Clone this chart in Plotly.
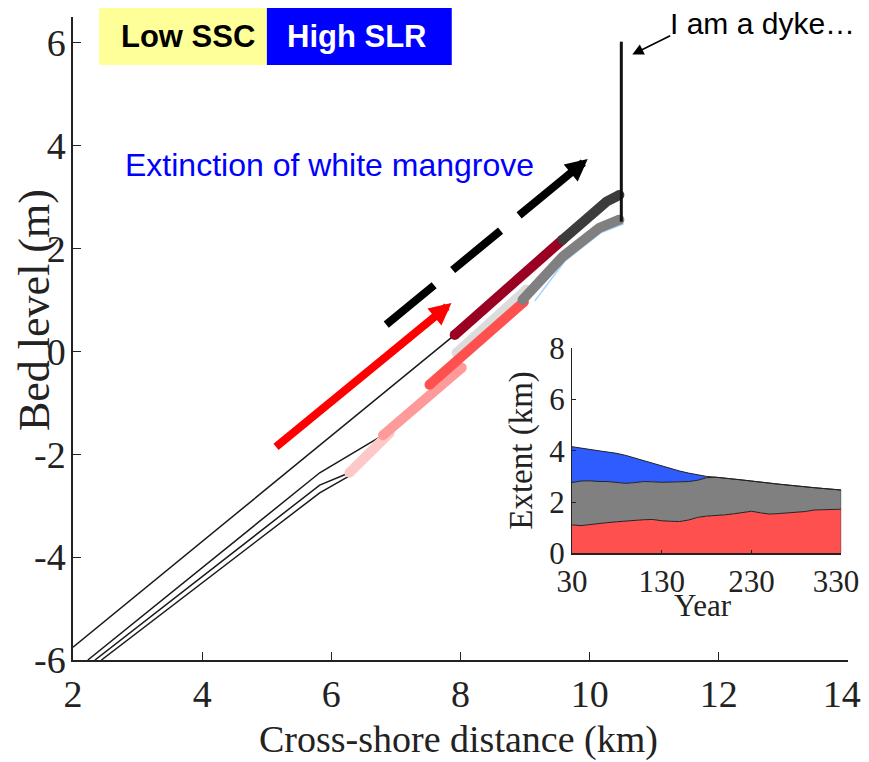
import plotly.graph_objects as go

# ---------------- main panel data (cross-shore distance km, bed level m) ----------------
prof_a_x = [2.0, 7.91]
prof_a_y = [-5.75, 0.32]
prof_b_x = [2.23, 5.82, 6.80]
prof_b_y = [-6.0, -2.36, -1.63]
prof_c_x = [2.34, 5.82, 6.28]
prof_c_y = [-6.0, -2.60, -2.36]
prof_d_x = [2.44, 5.82, 6.28]
prof_d_y = [-6.0, -2.75, -2.42]

lightgray_x = [7.94, 9.02]
lightgray_y = [-0.03, 1.20]
palepink_x = [6.28, 6.90]
palepink_y = [-2.36, -1.59]
pink_x = [6.80, 8.02]
pink_y = [-1.63, -0.32]
red_x = [7.52, 8.98]
red_y = [-0.65, 0.96]
lightblue_x = [9.15, 9.62, 10.18, 10.53]
lightblue_y = [0.98, 1.76, 2.31, 2.48]
gray_x = [8.96, 9.58, 10.15, 10.46]
gray_y = [1.00, 1.84, 2.40, 2.56]
darkred_x = [7.91, 9.58]
darkred_y = [0.32, 2.17]
darkgray_x = [9.58, 10.04, 10.26, 10.46]
darkgray_y = [2.17, 2.69, 2.91, 3.04]
dyke_x = [10.49, 10.49]
dyke_y = [2.52, 6.02]

# arrows (data coords)
red_arrow_start = (5.12, -1.88)
red_arrow_tip = (7.86, 0.94)
dash_start = (6.85, 0.52)
dash_head_base = (9.67, 3.43)
dash_tip = (9.97, 3.74)
dyke_arrow_tip = (10.66, 5.77)
dyke_arrow_start = (11.27, 6.15)

x_ticks = [2, 4, 6, 8, 10, 12, 14]
x_ticktext = ["2", "4", "6", "8", "10", "12", "14\u2004"]
y_ticks = [-6, -4, -2, 0, 2, 4, 6]
y_ticktext = ["-6", "-4", "-2", "0", "2", "4", "6"]

# ---------------- inset data ----------------
years = [30, 40, 50, 60, 70, 80, 90, 100, 110, 120, 130, 140, 150, 160, 170, 180,
         190, 200, 210, 220, 230, 240, 250, 260, 270, 280, 290, 300, 310, 320, 330]
red_top = [1.11, 1.08, 1.12, 1.17, 1.20, 1.23, 1.26, 1.28, 1.31, 1.32, 1.27, 1.25, 1.24, 1.30, 1.40, 1.45,
           1.47, 1.50, 1.54, 1.60, 1.64, 1.58, 1.53, 1.55, 1.57, 1.60, 1.63, 1.69, 1.70, 1.71, 1.72]
gray_top = [2.76, 2.82, 2.83, 2.80, 2.80, 2.76, 2.73, 2.76, 2.80, 2.79, 2.77, 2.78, 2.78, 2.80, 2.85, 2.95,
            2.97, 2.94, 2.90, 2.86, 2.82, 2.79, 2.74, 2.70, 2.66, 2.63, 2.60, 2.56, 2.53, 2.50, 2.47]
blue_top = [4.16, 4.10, 4.05, 4.00, 3.95, 3.90, 3.82, 3.72, 3.60, 3.49, 3.40, 3.30, 3.21, 3.13, 3.06, 3.00,
            2.97, 2.94, 2.90, 2.86, 2.82, 2.79, 2.74, 2.70, 2.66, 2.63, 2.60, 2.56, 2.53, 2.50, 2.47]
inset_xticks = [30, 130, 230, 330]
inset_xticktext = ["30", "130", "230", "330\u2004"]
inset_yticks = [0, 2, 4, 6, 8]

SERIF = "Liberation Serif, Times New Roman, serif"
SANS = "Liberation Sans, Arial, sans-serif"

fig = go.Figure()

def thin(x, y):
    fig.add_trace(go.Scatter(x=x, y=y, mode="lines", line=dict(color="#1a1a1a", width=1.5),
                             hoverinfo="skip", showlegend=False))

def thick(x, y, color, w=10):
    fig.add_trace(go.Scatter(x=x, y=y, mode="lines", line=dict(color=color, width=w),
                             hoverinfo="skip", showlegend=False))
    fig.add_trace(go.Scatter(x=[x[0], x[-1]], y=[y[0], y[-1]], mode="markers",
                             marker=dict(color=color, size=w, line=dict(width=0)),
                             hoverinfo="skip", showlegend=False))

thin(prof_a_x, prof_a_y)
thin(prof_b_x, prof_b_y)
thin(prof_c_x, prof_c_y)
thin(prof_d_x, prof_d_y)
thick(lightgray_x, lightgray_y, "#dcdcdc")
thick(palepink_x, palepink_y, "#ffc8c8")
thick(pink_x, pink_y, "#ff9a9a")
thick(red_x, red_y, "#ff5050")
fig.add_trace(go.Scatter(x=lightblue_x, y=lightblue_y, mode="lines",
                         line=dict(color="#a8d4ff", width=1.5), hoverinfo="skip", showlegend=False))
thick(gray_x, gray_y, "#808080")
thick(darkred_x, darkred_y, "#9a0022")
thick(darkgray_x, darkgray_y, "#3c3c3c")
fig.add_trace(go.Scatter(x=dyke_x, y=dyke_y, mode="lines", line=dict(color="#111111", width=3),
                         hoverinfo="skip", showlegend=False))

# dashed black shaft
fig.add_trace(go.Scatter(x=[dash_start[0], dash_head_base[0]], y=[dash_start[1], dash_head_base[1]],
                         mode="lines", line=dict(color="black", width=8, dash="62px,24px"),
                         hoverinfo="skip", showlegend=False))

# inset stacked areas
fig.add_trace(go.Scatter(x=years, y=red_top, xaxis="x2", yaxis="y2", mode="lines",
                         line=dict(color="#222222", width=1), fill="tozeroy", fillcolor="#ff5050",
                         hoverinfo="skip", showlegend=False))
fig.add_trace(go.Scatter(x=years, y=gray_top, xaxis="x2", yaxis="y2", mode="lines",
                         line=dict(color="#222222", width=1), fill="tonexty", fillcolor="#808080",
                         hoverinfo="skip", showlegend=False))
fig.add_trace(go.Scatter(x=years, y=blue_top, xaxis="x2", yaxis="y2", mode="lines",
                         line=dict(color="#222222", width=1), fill="tonexty", fillcolor="#2e5cff",
                         hoverinfo="skip", showlegend=False))
fig.add_trace(go.Scatter(x=[330, 330], y=[0, blue_top[-1]], xaxis="x2", yaxis="y2", mode="lines",
                         line=dict(color="#444444", width=1), hoverinfo="skip", showlegend=False))

# The page body adds an 8px offset; positions below are given in page pixels.
OFF = 8
W, H = 861, 754
PL, PR, PT, PB = 73, 848.5, 17, 660      # plot area in page pixels
L, R, T, B = PL - OFF, W - (PR - OFF), PT - OFF, H - (PB - OFF)
pw, ph = PR - PL, PB - PT

def px(xp):
    return (xp - PL) / pw

def py(yp):
    return (PB - yp) / ph

annotations = [
    dict(x=red_arrow_tip[0], y=red_arrow_tip[1], ax=red_arrow_start[0], ay=red_arrow_start[1],
         xref="x", yref="y", axref="x", ayref="y", text="", showarrow=True,
         arrowhead=2, arrowsize=0.55, arrowwidth=8, arrowcolor="#ff0000"),
    dict(x=dash_tip[0], y=dash_tip[1], ax=dash_head_base[0] - 0.05, ay=dash_head_base[1] - 0.05,
         xref="x", yref="y", axref="x", ayref="y", text="", showarrow=True,
         arrowhead=2, arrowsize=0.55, arrowwidth=8, arrowcolor="black"),
    dict(x=dyke_arrow_tip[0], y=dyke_arrow_tip[1], ax=dyke_arrow_start[0], ay=dyke_arrow_start[1],
         xref="x", yref="y", axref="x", ayref="y", text="", showarrow=True,
         arrowhead=2, arrowsize=1.4, arrowwidth=1.6, arrowcolor="black"),
    dict(x=px(188), y=py(37), xref="paper", yref="paper", text="<b>Low SSC</b>", showarrow=False,
         font=dict(family=SANS, size=31, color="black"), xanchor="center", yanchor="middle"),
    dict(x=px(357), y=py(37), xref="paper", yref="paper", text="<b>High SLR</b>", showarrow=False,
         font=dict(family=SANS, size=31, color="white"), xanchor="center", yanchor="middle"),
    dict(x=px(123), y=py(165), xref="paper", yref="paper", text="Extinction of white mangrove",
         showarrow=False, font=dict(family=SANS, size=32, color="#0000ff"), xanchor="left", yanchor="middle"),
    dict(x=px(668), y=py(23), xref="paper", yref="paper", text="I am a dyke…",
         showarrow=False, font=dict(family=SANS, size=30, color="black"), xanchor="left", yanchor="middle"),
    dict(x=px(459), y=py(740), xref="paper", yref="paper", text="Cross-shore distance (km)",
         showarrow=False, font=dict(family=SERIF, size=38, color="#222222"), xanchor="center", yanchor="middle"),
    dict(x=px(34), y=py(310), xref="paper", yref="paper", text="Bed level (m)", textangle=-90,
         showarrow=False, font=dict(family=SERIF, size=44, color="#222222"), xanchor="center", yanchor="middle"),
    dict(x=px(521), y=py(450), xref="paper", yref="paper", text="Extent (km)", textangle=-90,
         showarrow=False, font=dict(family=SERIF, size=33, color="#222222"), xanchor="center", yanchor="middle"),
    dict(x=px(703), y=py(605), xref="paper", yref="paper", text="Year",
         showarrow=False, font=dict(family=SERIF, size=31, color="#222222"), xanchor="center", yanchor="middle"),
]

shapes = [
    dict(type="rect", xref="paper", yref="paper", x0=px(99), x1=px(267), y0=py(65), y1=py(6),
         fillcolor="#ffff99", line=dict(width=0), layer="above"),
    dict(type="rect", xref="paper", yref="paper", x0=px(267), x1=px(452), y0=py(65), y1=py(6),
         fillcolor="#0000ff", line=dict(width=0), layer="above"),
]

fig.update_layout(
    width=W, height=H,
    margin=dict(l=L, r=R, t=T, b=B, autoexpand=False),
    paper_bgcolor="white", plot_bgcolor="rgba(0,0,0,0)",
    showlegend=False,
    xaxis=dict(domain=[0, 1], range=[2, 14], tickvals=x_ticks, ticktext=x_ticktext, ticks="inside",
               ticklen=8, tickwidth=1.2, tickcolor="#222222", showline=True, linecolor="#222222",
               linewidth=1.5, showgrid=False, zeroline=False,
               tickfont=dict(family=SERIF, size=38, color="#222222"),
               anchor="y", fixedrange=True, automargin=False, ticklabeloverflow="allow"),
    yaxis=dict(domain=[0, 1], range=[-6, 6.5], tickvals=y_ticks, ticktext=y_ticktext, ticks="inside",
               ticklen=8, tickwidth=1.2, tickcolor="#222222", showline=True, linecolor="#222222",
               linewidth=1.5, showgrid=False, zeroline=False, ticklabelstandoff=-2,
               tickfont=dict(family=SERIF, size=38, color="#222222"), anchor="x", fixedrange=True,
               automargin=False),
    xaxis2=dict(domain=[px(572.3), px(841.7)], range=[30, 330], tickvals=inset_xticks,
                ticktext=inset_xticktext, ticks="inside",
                ticklen=4, tickcolor="#222222", showline=True, linecolor="#222222", linewidth=1.5,
                showgrid=False, zeroline=False, tickfont=dict(family=SERIF, size=31, color="#222222"),
                anchor="y2", fixedrange=True, automargin=False, ticklabeloverflow="allow"),
    yaxis2=dict(domain=[py(553.3), py(348.3)], range=[0, 8], tickvals=inset_yticks, ticks="inside",
                ticklen=4, tickcolor="#222222", showline=True, linecolor="#222222", linewidth=1.2,
                showgrid=False, zeroline=False, tickfont=dict(family=SERIF, size=31, color="#222222"),
                anchor="x2", fixedrange=True, automargin=False),
    annotations=annotations,
    shapes=shapes,
)

fig.write_html("out.html")
